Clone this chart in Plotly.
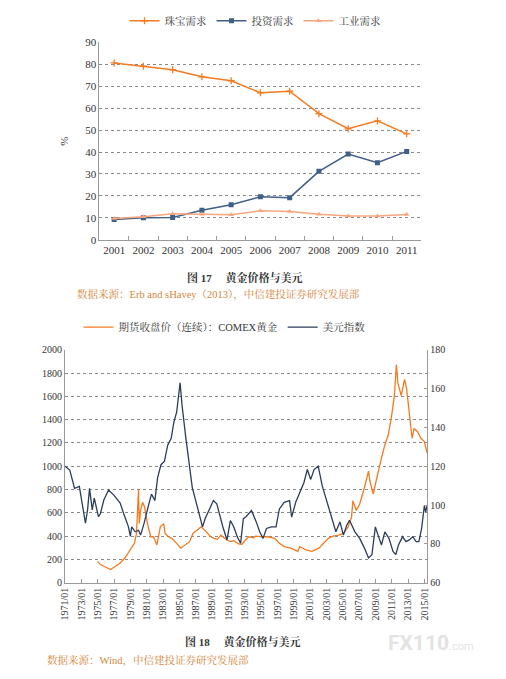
import plotly.graph_objects as go

# ---------------- Top chart data (Fig. 17) ----------------
years = ['2001', '2002', '2003', '2004', '2005', '2006', '2007', '2008', '2009', '2010', '2011']
jewelry = [80.6, 79.1, 77.5, 74.3, 72.5, 67.0, 67.7, 57.5, 50.6, 54.2, 48.3]
investment = [9.2, 10.0, 10.2, 13.5, 16.0, 19.6, 19.2, 31.2, 39.1, 35.1, 40.3]
industrial = [9.7, 10.5, 11.9, 11.6, 11.4, 13.2, 12.9, 11.6, 10.8, 10.8, 11.5]

# ---------------- Bottom chart data (Fig. 18) ----------------
usd_dates = ['1971-01', '1971-08', '1972-03', '1972-10', '1973-02', '1973-07', '1973-10', '1974-01',
             '1974-05', '1974-08', '1975-02', '1975-05', '1975-10', '1976-05', '1977-01', '1977-10',
             '1978-03', '1978-10', '1979-01', '1979-03', '1979-08', '1980-01', '1980-04', '1980-09',
             '1981-03', '1981-08', '1982-01', '1982-05', '1982-10', '1983-03', '1983-08', '1984-01',
             '1984-05', '1984-09', '1985-02', '1985-05', '1985-10', '1986-03', '1986-08', '1987-01',
             '1987-05', '1987-11', '1988-03', '1988-08', '1989-03', '1989-08', '1990-01', '1990-05',
             '1990-11', '1991-04', '1991-09', '1992-02', '1992-07', '1992-11', '1993-03', '1993-11',
             '1994-06', '1994-11', '1995-04', '1995-09', '1996-04', '1996-11', '1997-04', '1997-11',
             '1998-07', '1998-10', '1999-04', '1999-11', '2000-04', '2000-09', '2001-02', '2001-07',
             '2002-01', '2002-07', '2003-02', '2003-09', '2004-03', '2004-09', '2005-02', '2005-07',
             '2005-11', '2006-07', '2007-02', '2007-09', '2008-03', '2008-08', '2009-01', '2009-05',
             '2009-10', '2010-03', '2010-09', '2011-03', '2011-07', '2011-11', '2012-05', '2012-10',
             '2013-03', '2013-08', '2014-01', '2014-05', '2014-09', '2015-01', '2015-03', '2015-05']
usd_index = [120.0, 118.0, 108.6, 109.6, 101.0, 90.7, 97.2, 108.6,
             97.5, 103.5, 94.0, 95.5, 102.6, 107.7, 105.0, 101.0,
             95.8, 89.0, 83.9, 88.7, 86.2, 87.0, 84.5, 90.4,
             98.9, 105.6, 102.3, 114.0, 120.8, 122.5, 131.0, 134.4,
             142.8, 147.9, 163.0, 151.3, 136.0, 122.5, 109.0, 102.3,
             97.0, 88.7, 93.0, 97.0, 102.3, 100.6, 93.8, 88.7,
             82.0, 92.0, 88.7, 83.7, 80.3, 93.0, 94.0, 97.2,
             91.3, 86.2, 82.8, 87.9, 88.7, 88.7, 98.0, 101.4,
             102.3, 93.8, 101.4, 107.3, 111.5, 118.3, 113.2, 118.3,
             120.0, 109.9, 101.4, 93.0, 86.2, 91.3, 84.5, 89.6,
             92.1, 86.2, 82.8, 77.8, 72.7, 74.4, 88.7, 84.5,
             79.4, 86.2, 82.8, 76.1, 74.4, 79.4, 83.7, 81.1,
             82.0, 83.7, 81.1, 81.1, 87.9, 99.7, 96.3, 99.7]

gold_dates = ['1975-01', '1975-05', '1976-01', '1976-08', '1977-03', '1977-10', '1978-05', '1978-10',
              '1979-03', '1979-07', '1979-10', '1980-01', '1980-02', '1980-04', '1980-07', '1980-10',
              '1981-02', '1981-07', '1981-11', '1982-04', '1982-09', '1983-02', '1983-04', '1983-09',
              '1984-02', '1984-07', '1984-11', '1985-03', '1985-09', '1986-04', '1986-09', '1987-04',
              '1987-09', '1988-02', '1988-07', '1988-11', '1989-04', '1989-09', '1990-02', '1990-07',
              '1990-11', '1991-04', '1991-09', '1992-04', '1992-09', '1993-02', '1993-07', '1994-02',
              '1994-05', '1995-02', '1995-11', '1996-09', '1997-04', '1997-11', '1998-09', '1999-07',
              '1999-10', '2000-07', '2001-04', '2002-02', '2002-09', '2003-04', '2003-11', '2004-07',
              '2005-02', '2005-09', '2006-02', '2006-04', '2006-09', '2007-02', '2007-09', '2008-03',
              '2008-05', '2008-10', '2009-01', '2009-05', '2009-10', '2010-03', '2010-08', '2011-01',
              '2011-05', '2011-08', '2011-10', '2012-03', '2012-08', '2012-11', '2013-03', '2013-07',
              '2013-10', '2014-03', '2014-08', '2015-01', '2015-05']
gold_price = [183, 155, 132, 113, 141, 169, 211, 254,
              296, 338, 422, 803, 507, 620, 690, 648,
              507, 394, 394, 324, 479, 507, 423, 394,
              380, 352, 324, 296, 324, 352, 423, 451,
              479, 451, 423, 394, 380, 372, 408, 380,
              366, 352, 361, 332, 330, 366, 394, 385,
              400, 394, 394, 380, 338, 310, 296, 268,
              310, 282, 268, 296, 338, 380, 400, 408,
              423, 479, 563, 704, 620, 676, 817, 958,
              873, 761, 845, 958, 1070, 1183, 1268, 1437,
              1606, 1873, 1718, 1606, 1747, 1662, 1465, 1240,
              1324, 1296, 1240, 1211, 1113]

# ---------------- Texts ----------------
legend_top = ['珠宝需求', '投资需求', '工业需求']
legend_bottom = ['期货收盘价（连续）：COMEX黄金', '美元指数']
caption17 = '<b>图 17　 黄金价格与美元</b>'
source17 = '数据来源：Erb and sHavey（2013），中信建投证券研究发展部'
caption18 = '<b>图 18　 黄金价格与美元</b>'
source18 = '数据来源：Wind，中信建投证券研究发展部'

W, H = 506, 679
FONT = 'Liberation Serif, Noto Serif CJK SC, Noto Sans CJK SC, serif'
ORANGE = '#f47a20'
NAVY = '#2c3d5a'
GRID = '#8a8a8a'
AXIS = '#9a9a9a'

def px(x):
    return x / W

def py(y):
    return 1 - y / H

fig = go.Figure()

fig.add_trace(go.Scatter(x=years, y=jewelry, name=legend_top[0], mode='lines+markers',
                         line=dict(color='#f47b22', width=1.5),
                         marker=dict(symbol='cross-thin', size=5, line=dict(color='#f47b22', width=1.3)),
                         xaxis='x', yaxis='y', legend='legend'))
fig.add_trace(go.Scatter(x=years, y=investment, name=legend_top[1], mode='lines+markers',
                         line=dict(color='#3f5e88', width=1.5),
                         marker=dict(symbol='square', size=5, color='#3f5e88'),
                         xaxis='x', yaxis='y', legend='legend'))
fig.add_trace(go.Scatter(x=years, y=industrial, name=legend_top[2], mode='lines+markers',
                         line=dict(color='#f7a67e', width=1.5),
                         marker=dict(symbol='triangle-up', size=5, color='#f7a67e'),
                         xaxis='x', yaxis='y', legend='legend'))

fig.add_trace(go.Scatter(x=gold_dates, y=gold_price, name=legend_bottom[0], mode='lines',
                         line=dict(color=ORANGE, width=1.3),
                         xaxis='x2', yaxis='y2', legend='legend2'))
fig.add_trace(go.Scatter(x=usd_dates, y=usd_index, name=legend_bottom[1], mode='lines',
                         line=dict(color=NAVY, width=1.3),
                         xaxis='x2', yaxis='y3', legend='legend2'))

fig.update_layout(
    width=W, height=H, autosize=False,
    margin=dict(l=0, r=0, t=0, b=0),
    paper_bgcolor='white', plot_bgcolor='white',
    font=dict(family=FONT, size=11, color='#333333'),
    xaxis=dict(domain=[px(95), px(422)], anchor='y', type='category', range=[-0.5, 10.5],
               tickson='boundaries', ticks='inside', ticklen=4, tickcolor=AXIS, tickangle=0,
               showline=True, linecolor=AXIS, linewidth=1, showgrid=False,
               tickfont=dict(size=11, color='#333')),
    yaxis=dict(domain=[py(238), py(37)], anchor='x', range=[0, 90], dtick=10,
               showgrid=True, gridcolor=GRID, griddash='dot', gridwidth=1,
               showline=True, linecolor=AXIS, zeroline=False, ticks='',
               tickfont=dict(size=11, color='#333'),
               title=dict(text='%', font=dict(size=11), standoff=14)),
    xaxis2=dict(domain=[px(60), px(428)], anchor='y2', type='date',
                range=['1971-01-01', '2015-05-10'], tick0='1971-01-01', dtick='M24',
                tickformat='%Y/%m', tickangle=-90, ticks='inside', ticklen=4, tickcolor=AXIS,
                showline=True, linecolor=AXIS, showgrid=False,
                tickfont=dict(size=10, color='#333')),
    yaxis2=dict(domain=[py(587), py(350)], anchor='x2', range=[0, 2000], dtick=200,
                showgrid=True, gridcolor=GRID, griddash='dot', gridwidth=1,
                showline=True, linecolor=AXIS, zeroline=False, ticks='',
                tickfont=dict(size=10, color='#333')),
    yaxis3=dict(anchor='x2', overlaying='y2', side='right', range=[60, 180], dtick=20,
                showgrid=False, showline=True, linecolor=AXIS, zeroline=False,
                ticks='inside', ticklen=3, tickcolor=AXIS,
                tickfont=dict(size=10, color='#333')),
    legend=dict(orientation='h', x=0.5, xanchor='center', y=py(15), yanchor='middle',
                font=dict(size=10.5, color='#333'), bgcolor='rgba(0,0,0,0)',
                itemwidth=30, tracegroupgap=0),
    legend2=dict(orientation='h', x=px(222), xanchor='center', y=py(327), yanchor='middle',
                 font=dict(size=10.5, color='#333'), bgcolor='rgba(0,0,0,0)', itemwidth=30),
    annotations=[
        dict(text=caption17, x=px(243), y=py(276), xref='paper', yref='paper',
             showarrow=False, font=dict(size=11, color='#333'), xanchor='center', yanchor='middle'),
        dict(text=source17, x=px(70), y=py(294), xref='paper', yref='paper',
             showarrow=False, font=dict(size=10.5, color='#d4863a'), xanchor='left', yanchor='middle'),
        dict(text=caption18, x=px(241), y=py(647), xref='paper', yref='paper',
             showarrow=False, font=dict(size=11, color='#333'), xanchor='center', yanchor='middle'),
        dict(text=source18, x=px(40), y=py(666), xref='paper', yref='paper',
             showarrow=False, font=dict(size=10.5, color='#d4863a'), xanchor='left', yanchor='middle'),
        dict(text='<b>FX110</b><span style="font-size:11px">.com</span>', x=px(478), y=py(648),
             xref='paper', yref='paper', showarrow=False, xanchor='right', yanchor='middle',
             font=dict(family='Roboto, sans-serif', size=21, color='#e3e3e3')),
    ],
)

# remove the browser's default 8px body margin so the figure sits at the page origin
fig.write_html('out.html', config={'displayModeBar': False},
               post_script="document.body.style.margin='0';")
